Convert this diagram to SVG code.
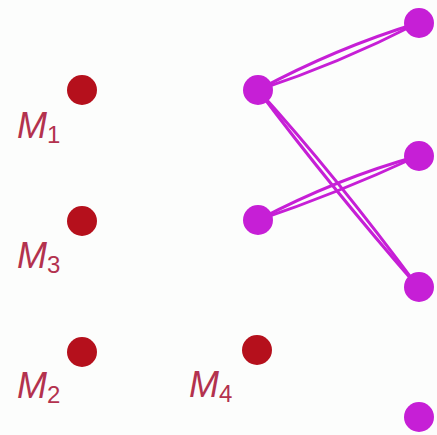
<svg xmlns="http://www.w3.org/2000/svg" width="437" height="435" viewBox="0 0 437 435">
<style>
.red{fill:#b5101c}
.mag{fill:#c61fd6}
.edge{fill:none;stroke:#c61fd6;stroke-width:3}
.lbl{font-family:"Liberation Sans",Arial,sans-serif;font-style:italic;font-size:36px;fill:#b3324e}
.sub{font-size:24px;font-style:normal}
</style>
<rect width="437" height="435" fill="#fcfdfc"/>
<g id="connectors">
<path class="edge" d="M258,90 Q336,48 418,23"/>
<path class="edge" d="M258,90 Q338,64 418,23"/>
<path class="edge" d="M258,90 Q336,176 418,287"/>
<path class="edge" d="M258,90 Q330,186 418,287"/>
<path class="edge" d="M258,220 Q338,178 418,156"/>
<path class="edge" d="M258,220 Q336,194 418,156"/>
</g>
<g id="M1"><circle class="red" cx="82" cy="90" r="15"/><text class="lbl" x="17" y="138">M<tspan class="sub" dy="5">1</tspan></text></g>
<g id="M3"><circle class="red" cx="82" cy="221" r="15"/><text class="lbl" x="17" y="268">M<tspan class="sub" dy="5">3</tspan></text></g>
<g id="M2"><circle class="red" cx="82" cy="352" r="15"/><text class="lbl" x="17" y="398">M<tspan class="sub" dy="5">2</tspan></text></g>
<g id="M4"><circle class="red" cx="257" cy="350" r="15"/><text class="lbl" x="189" y="397">M<tspan class="sub" dy="5">4</tspan></text></g>
<g id="A"><circle class="mag" cx="258" cy="90" r="15"/></g>
<g id="B"><circle class="mag" cx="258" cy="220" r="15"/></g>
<g id="R1"><circle class="mag" cx="419" cy="23" r="15"/></g>
<g id="R2"><circle class="mag" cx="419" cy="156" r="15"/></g>
<g id="R3"><circle class="mag" cx="419" cy="287" r="15"/></g>
<g id="R4"><circle class="mag" cx="419" cy="417" r="15"/></g>
</svg>
